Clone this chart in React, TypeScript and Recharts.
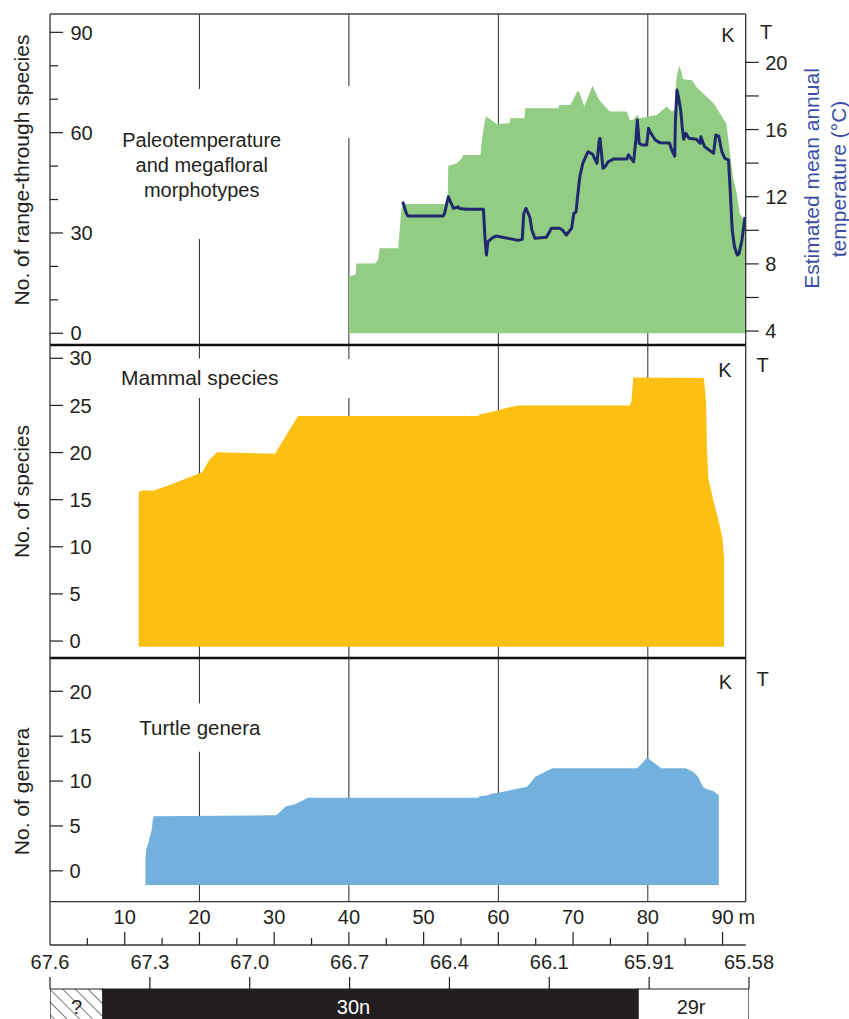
import React from 'react';
import { ComposedChart, Area, Line, XAxis, YAxis, CartesianGrid, BarChart, Bar } from 'recharts';

const FONT = '"Liberation Sans", Arial, Helvetica, sans-serif';
const INK = '#231f20';

// ---------- data ----------
// Paleotemperature panel: megafloral range-through species (left axis)
const FLORA_M = [40.0, 40.9, 41.0, 43.5, 43.9, 44.1, 46.6, 46.8, 47.0, 47.3, 53.2, 53.3, 54.4, 55.1, 55.3, 57.6, 57.8, 58.2, 58.4, 58.7, 59.8, 61.5, 61.6, 63.5, 63.6, 68.0, 68.2, 69.6, 70.0, 70.6, 70.9, 71.2, 71.5, 72.6, 73.5, 74.7, 75.0, 77.2, 77.6, 78.0, 78.6, 78.9, 81.2, 82.5, 83.2, 83.6, 83.85, 84.2, 84.5, 84.7, 85.9, 86.6, 88.8, 90.5, 91.0, 91.4, 91.9, 92.3, 92.8, 93.1];
const FLORA_N = [16.9, 17.6, 20.9, 20.9, 21.9, 25.4, 25.4, 30.9, 36.9, 38.7, 38.7, 50.1, 50.8, 52.3, 53.3, 53.3, 58.0, 63.5, 65.0, 64.3, 62.6, 62.8, 64.3, 64.3, 67.3, 67.3, 68.3, 68.3, 69.8, 72.5, 71.8, 69.8, 67.8, 74.0, 69.8, 66.8, 66.3, 66.3, 63.8, 63.8, 65.3, 64.3, 65.3, 67.8, 66.3, 66.8, 76.7, 79.9, 78.2, 76.0, 75.7, 73.4, 68.8, 62.8, 53.8, 46.8, 41.9, 35.9, 33.9, 35.0];

// Estimated mean annual temperature (right axis, °C)
const TEMP_M = [47.2, 47.7, 47.9, 52.6, 52.8, 53.3, 53.5, 54.0, 54.6, 54.8, 55.7, 58.0, 58.2, 58.4, 58.6, 59.3, 59.7, 62.0, 62.6, 63.2, 63.4, 63.7, 64.2, 64.5, 64.9, 66.4, 66.7, 67.1, 68.2, 68.6, 69.1, 69.8, 70.1, 70.4, 70.6, 70.9, 71.3, 72.0, 72.6, 73.2, 73.5, 73.6, 74.0, 74.3, 74.7, 75.4, 77.2, 77.4, 78.1, 78.4, 78.6, 78.85, 79.2, 79.85, 80.1, 80.3, 81.0, 81.6, 82.9, 83.2, 83.6, 83.7, 83.9, 84.1, 84.4, 84.6, 84.8, 85.1, 85.5, 86.5, 87.0, 87.1, 87.6, 88.8, 89.1, 89.5, 89.9, 90.3, 90.8, 91.0, 91.3, 91.6, 91.96, 92.2, 92.6, 93.0];
const TEMP_C = [11.7, 11.0, 10.85, 10.85, 11.0, 12.0, 11.8, 11.3, 11.4, 11.3, 11.25, 11.25, 9.6, 8.53, 9.32, 9.58, 9.66, 9.46, 9.4, 9.46, 11.0, 11.3, 10.8, 10.0, 9.52, 9.58, 9.8, 10.12, 10.12, 10.0, 9.72, 10.12, 11.0, 11.1, 12.0, 13.19, 13.99, 14.68, 14.54, 13.99, 15.38, 15.48, 13.69, 13.8, 14.08, 14.24, 14.24, 14.5, 14.08, 15.38, 16.57, 15.18, 15.08, 15.08, 16.07, 15.87, 15.38, 15.22, 15.2, 14.78, 14.42, 16.57, 18.35, 17.96, 17.16, 16.17, 15.42, 15.77, 15.48, 15.42, 15.18, 15.57, 14.98, 14.58, 15.67, 15.6, 14.68, 14.29, 14.18, 12.6, 10.0, 9.02, 8.53, 8.6, 9.42, 10.8];

// Mammal species
const MAMMAL_M = [11.87, 12.4, 13.8, 16.0, 20.0, 20.4, 21.4, 22.4, 30.1, 33.2, 57.3, 57.5, 58.6, 60.0, 60.9, 61.8, 62.65, 77.6, 77.8, 78.05, 87.5, 87.8, 87.9, 88.1, 88.7, 89.4, 90.0, 90.2];
const MAMMAL_N = [15.78, 16.0, 15.95, 16.55, 17.8, 17.97, 19.31, 20.02, 19.88, 23.88, 23.88, 24.06, 24.23, 24.5, 24.7, 24.85, 25.0, 25.0, 25.4, 27.95, 27.9, 25.4, 20.8, 17.27, 15.14, 13.0, 10.9, 8.78];

// Turtle genera
const TURTLE_M = [12.77, 12.85, 13.25, 13.6, 13.75, 13.9, 30.3, 30.75, 31.6, 32.8, 33.4, 34.5, 57.3, 57.5, 58.6, 58.8, 61.0, 62.5, 63.8, 64.2, 64.9, 66.0, 66.6, 67.25, 78.6, 79.9, 81.8, 85.1, 86.1, 86.7, 87.4, 87.9, 88.75, 89.5];
const TURTLE_N = [1.19, 2.3, 3.41, 4.52, 5.63, 6.08, 6.19, 6.56, 7.19, 7.41, 7.67, 8.15, 8.15, 8.3, 8.41, 8.52, 8.86, 9.15, 9.33, 9.7, 10.44, 10.93, 11.19, 11.44, 11.44, 12.6, 11.44, 11.44, 11.0, 10.52, 9.33, 9.08, 8.89, 8.41];

// Axes
const METER_DOMAIN = [0, 93.1];
const GRID_METERS = [20, 40, 60, 80];
const METER_TICKS = [5, 10, 15, 20, 25, 30, 35, 40, 45, 50, 55, 60, 65, 70, 75, 80, 85, 90];
const FLORA_TICKS = [0, 10, 20, 30, 40, 50, 60, 70, 80, 90];
const TEMP_TICKS = [4, 6, 8, 10, 12, 14, 16, 18, 20];
const MAMMAL_TICKS = [0, 5, 10, 15, 20, 25, 30];
const TURTLE_TICKS = [0, 5, 10, 15, 20];
const AGE_LABELS = ['67.6', '67.3', '67.0', '66.7', '66.4', '66.1', '65.91', '65.58'];

// Magnetostratigraphy (widths in age-axis steps)
const CHRON_LABELS = ['?', '30n', '29r'];
const CHRON_SPANS = [0.53, 5.36, 1.11];

// ---------- derived tables ----------
const floraData = FLORA_M.map((m, i) => ({ m, v: FLORA_N[i] }));
const tempData = TEMP_M.map((m, i) => ({ m, t: TEMP_C[i] }));
const mammalData = MAMMAL_M.map((m, i) => ({ m, v: MAMMAL_N[i] }));
const turtleData = TURTLE_M.map((m, i) => ({ m, v: TURTLE_N[i] }));
const meterRows = METER_TICKS.map((m) => ({ m, z: 0.5 }));
const chronRow: any = { name: 'chron' };
CHRON_SPANS.forEach((s, i) => { chronRow['c' + i] = s; });
const chronData = [chronRow];
const AGE_INDEX = AGE_LABELS.map((_, i) => i);

// ---------- layout ----------
const W = 849;
const PL = 50;
const PR = 745.7;
const AGE_R = 749;

// ---------- tick renderers ----------
const tickFont = { fontFamily: FONT, fontSize: 20, fill: INK };

const leftTick = (majorEvery: number, labelX: number) => (props: any) => {
  const { y, payload } = props;
  const v = payload.value;
  const major = v % majorEvery === 0;
  return (
    <g>
      <line x1={PL} x2={PL + (major ? 13 : 8)} y1={y} y2={y} stroke={INK} strokeWidth={1.2} />
      {major && (
        <text x={labelX} y={y} dy="0.36em" textAnchor="start" {...tickFont}>{v}</text>
      )}
    </g>
  );
};

const rightTick = (props: any) => {
  const { y, payload } = props;
  const v = payload.value;
  return (
    <g>
      <line x1={PR} x2={PR + 13} y1={y} y2={y} stroke={INK} strokeWidth={1.2} />
      {v % 4 === 0 && (
        <text x={PR + 19.5} y={y} dy="0.36em" textAnchor="start" {...tickFont}>{v}</text>
      )}
    </g>
  );
};

const meterTick = (baseY: number) => (props: any) => {
  const { x, payload } = props;
  const v = payload.value;
  const major = v % 10 === 0;
  return (
    <g>
      <line x1={x} x2={x} y1={baseY} y2={baseY - (major ? 13 : 7)} stroke={INK} strokeWidth={1.2} />
      {major && (
        <text x={x} y={baseY - 28} dy="0.36em" textAnchor="middle" {...tickFont}>{v}</text>
      )}
      {major && v === 90 && (
        <text x={x + 16} y={baseY - 28} dy="0.36em" textAnchor="start" {...tickFont}>m</text>
      )}
    </g>
  );
};

const ageTick = (baseY: number) => (props: any) => {
  const { x, payload } = props;
  const i = payload.value;
  return (
    <g>
      <line x1={x} x2={x} y1={baseY} y2={baseY - 12} stroke={INK} strokeWidth={1.2} />
      <text x={x} y={baseY - 27.3} dy="0.36em" textAnchor="middle" {...tickFont}>{AGE_LABELS[i]}</text>
    </g>
  );
};

// vertical grid lines with white gaps (gaps given in page y)
const gridRenderer = (gaps: number[][], top: number) => (props: any) => {
  const { x1, y1, x2, y2, index } = props;
  const gap = gaps.find((g) => g[0] === index);
  const st = { stroke: '#2a2a2a', strokeWidth: 1 };
  if (!gap) return <line key={'gl' + index} x1={x1} y1={y1} x2={x2} y2={y2} {...st} />;
  return (
    <g key={'gl' + index}>
      <line x1={x1} y1={y1} x2={x2} y2={gap[1] - top} {...st} />
      <line x1={x1} y1={gap[2] - top} x2={x2} y2={y2} {...st} />
    </g>
  );
};

const GAPS_P1 = [[0, 89, 239], [1, 86, 138]];
const GAPS_P2 = [[0, 358.5, 398], [1, 359, 398]];
const GAPS_P3 = [[0, 703.3, 751.7]];

const frameLine = (w: number, c = '#333') => ({ stroke: c, strokeWidth: w });

const chronLabel = (i: number, dx: number, color: string) => (p: any) => (
  <text
    key={'cl' + i}
    x={p.x + p.width / 2 + dx}
    y={p.y + p.height / 2}
    dy="0.36em"
    textAnchor="middle"
    fontFamily={FONT}
    fontSize={20}
    fill={color}
  >
    {CHRON_LABELS[i]}
  </text>
);

const CHRON_FILLS = ['url(#hatch)', INK, '#ffffff'];
const CHRON_TEXT = [INK, '#ffffff', INK];
const CHRON_DX = [0, -17, -2.5];

export default function App() {
  return (
    <div style={{ position: 'absolute', left: 0, top: 0, width: W, height: 1019, overflow: 'hidden', background: '#fff' }}>
      {/* Panel 1: paleotemperature & megaflora */}
      <div style={{ position: 'absolute', left: 0, top: 0 }}>
        <ComposedChart width={W} height={350} margin={{ top: 14, right: W - PR - 60, bottom: 5, left: PL }}>
          <CartesianGrid xAxisId="m" yAxisId="left" horizontal={false} syncWithTicks vertical={gridRenderer(GAPS_P1, 0)} />
          <XAxis xAxisId="m" dataKey="m" type="number" domain={METER_DOMAIN} allowDataOverflow ticks={GRID_METERS} hide />
          <XAxis xAxisId="top" type="number" domain={METER_DOMAIN} orientation="top" mirror tick={false} tickLine={false} axisLine={frameLine(1.3, '#444')} />
          <YAxis yAxisId="left" type="number" domain={[-3.5, 95.48]} allowDataOverflow mirror ticks={FLORA_TICKS} interval={0} tickLine={false} tick={leftTick(30, 70.5)} axisLine={frameLine(1.3)} />
          <YAxis yAxisId="right" orientation="right" width={60} type="number" domain={[3.17, 22.88]} allowDataOverflow ticks={TEMP_TICKS} interval={0} tickLine={false} tick={rightTick} axisLine={frameLine(1.3)} />
          <Area xAxisId="m" yAxisId="left" data={floraData} dataKey="v" type="linear" stroke="none" fill="#93cd83" fillOpacity={1} baseValue={0} isAnimationActive={false} />
          <Line xAxisId="m" yAxisId="right" data={tempData} dataKey="t" type="linear" stroke="#1f2a6e" strokeWidth={3} strokeLinejoin="round" dot={false} activeDot={false} isAnimationActive={false} />
        </ComposedChart>
      </div>

      {/* Panel 2: mammal species */}
      <div style={{ position: 'absolute', left: 0, top: 340 }}>
        <ComposedChart width={W} height={323} margin={{ top: 5, right: W - PR, bottom: 5, left: PL }}>
          <CartesianGrid xAxisId="m" yAxisId="left" horizontal={false} syncWithTicks vertical={gridRenderer(GAPS_P2, 340)} />
          <XAxis xAxisId="m" dataKey="m" type="number" domain={METER_DOMAIN} allowDataOverflow ticks={GRID_METERS} hide />
          <XAxis xAxisId="top" type="number" domain={METER_DOMAIN} orientation="top" mirror tick={false} tickLine={false} axisLine={frameLine(2.6, '#111')} />
          <YAxis yAxisId="left" type="number" domain={[-1.8, 31.41]} allowDataOverflow mirror ticks={MAMMAL_TICKS} interval={0} tickLine={false} tick={leftTick(5, 69.5)} axisLine={frameLine(1.3)} />
          <YAxis yAxisId="rf" orientation="right" mirror type="number" domain={[0, 1]} tick={false} tickLine={false} axisLine={frameLine(1.3)} />
          <Area xAxisId="m" yAxisId="left" data={mammalData} dataKey="v" type="linear" stroke="none" fill="#fcc013" fillOpacity={1} baseValue={-0.6} isAnimationActive={false} />
        </ComposedChart>
      </div>

      {/* Panel 3: turtle genera */}
      <div style={{ position: 'absolute', left: 0, top: 650 }}>
        <ComposedChart width={W} height={257} margin={{ top: 8, right: W - PR, bottom: 5.3, left: PL }}>
          <CartesianGrid xAxisId="m" yAxisId="left" horizontal={false} syncWithTicks vertical={gridRenderer(GAPS_P3, 650)} />
          <XAxis xAxisId="m" dataKey="m" type="number" domain={METER_DOMAIN} allowDataOverflow ticks={GRID_METERS} hide />
          <XAxis xAxisId="top" type="number" domain={METER_DOMAIN} orientation="top" mirror tick={false} tickLine={false} axisLine={frameLine(2.6, '#111')} />
          <YAxis yAxisId="left" type="number" domain={[-3.44, 23.71]} allowDataOverflow mirror ticks={TURTLE_TICKS} interval={0} tickLine={false} tick={leftTick(5, 69.5)} axisLine={frameLine(1.3)} />
          <YAxis yAxisId="rf" orientation="right" mirror type="number" domain={[0, 1]} tick={false} tickLine={false} axisLine={frameLine(1.3)} />
          <Area xAxisId="m" yAxisId="left" data={turtleData} dataKey="v" type="linear" stroke="none" fill="#72b1de" fillOpacity={1} baseValue={-1.59} isAnimationActive={false} />
        </ComposedChart>
      </div>

      {/* Meter scale */}
      <div style={{ position: 'absolute', left: 0, top: 895 }}>
        <ComposedChart width={W} height={55} data={meterRows} margin={{ top: 6.7, right: W - PR, bottom: 5, left: PL }}>
          <XAxis xAxisId="m" dataKey="m" type="number" domain={METER_DOMAIN} allowDataOverflow orientation="bottom" mirror ticks={METER_TICKS} interval={0} tickLine={false} tick={meterTick(50)} axisLine={frameLine(1.3)} />
          <XAxis xAxisId="top" type="number" domain={METER_DOMAIN} orientation="top" mirror tick={false} tickLine={false} axisLine={frameLine(1.3)} />
          <YAxis yAxisId="left" type="number" domain={[0, 1]} mirror tick={false} tickLine={false} axisLine={frameLine(1.3)} />
          <Line xAxisId="m" yAxisId="left" dataKey="z" stroke="none" dot={false} activeDot={false} isAnimationActive={false} />
        </ComposedChart>
      </div>

      {/* Age scale and magnetostratigraphy */}
      <div style={{ position: 'absolute', left: 0, top: 940 }}>
        <BarChart width={W} height={84} layout="vertical" data={chronData} barCategoryGap={0} margin={{ top: 0, right: W - AGE_R, bottom: 0, left: PL }}>
          <defs>
            <pattern id="hatch" width="9" height="9" patternUnits="userSpaceOnUse" patternTransform="rotate(-45)">
              <rect x="0" y="0" width="9" height="9" fill="#fff" />
              <line x1="0" y1="0" x2="0" y2="9" stroke={INK} strokeWidth="1.2" />
            </pattern>
          </defs>
          <XAxis type="number" orientation="top" height={49} domain={[0, AGE_LABELS.length - 1]} allowDataOverflow ticks={AGE_INDEX} interval={0} tickLine={false} axisLine={false} tick={ageTick(49)} />
          <YAxis type="category" dataKey="name" hide />
          {CHRON_SPANS.map((_, i) => (
            <Bar
              key={'c' + i}
              dataKey={'c' + i}
              stackId="chron"
              fill={CHRON_FILLS[i]}
              stroke={INK}
              strokeWidth={1.2}
              isAnimationActive={false}
              label={chronLabel(i, CHRON_DX[i], CHRON_TEXT[i])}
            />
          ))}
        </BarChart>
      </div>

      {/* Text annotations */}
      <svg width={W} height={1019} style={{ position: 'absolute', left: 0, top: 0, pointerEvents: 'none' }}>
        <g fontFamily={FONT} fill={INK}>
          <text transform="translate(28.5,170) rotate(-90)" textAnchor="middle" fontSize={21}>No. of range-through species</text>
          <text transform="translate(28.5,491.5) rotate(-90)" textAnchor="middle" fontSize={21}>No. of species</text>
          <text transform="translate(28.5,791.5) rotate(-90)" textAnchor="middle" fontSize={21}>No. of genera</text>
          <text transform="translate(818.5,178.5) rotate(-90)" textAnchor="middle" fontSize={21} fill="#3c4ea5">Estimated mean annual</text>
          <text transform="translate(845.5,179) rotate(-90)" textAnchor="middle" fontSize={21} fill="#3c4ea5">temperature (°C)</text>

          <text x={201.7} y={146.7} textAnchor="middle" fontSize={20}>Paleotemperature</text>
          <text x={201.7} y={171.7} textAnchor="middle" fontSize={20}>and megafloral</text>
          <text x={201.7} y={196.5} textAnchor="middle" fontSize={20}>morphotypes</text>
          <text x={121} y={385} textAnchor="start" fontSize={21}>Mammal species</text>
          <text x={139.3} y={735.3} textAnchor="start" fontSize={20.5}>Turtle genera</text>

          <text x={728} y={41.7} textAnchor="middle" fontSize={20}>K</text>
          <text x={766} y={39} textAnchor="middle" fontSize={20}>T</text>
          <text x={725} y={377} textAnchor="middle" fontSize={20}>K</text>
          <text x={762.5} y={371.7} textAnchor="middle" fontSize={20}>T</text>
          <text x={725.5} y={689.3} textAnchor="middle" fontSize={20}>K</text>
          <text x={762.5} y={685.7} textAnchor="middle" fontSize={20}>T</text>
        </g>
      </svg>
    </div>
  );
}
